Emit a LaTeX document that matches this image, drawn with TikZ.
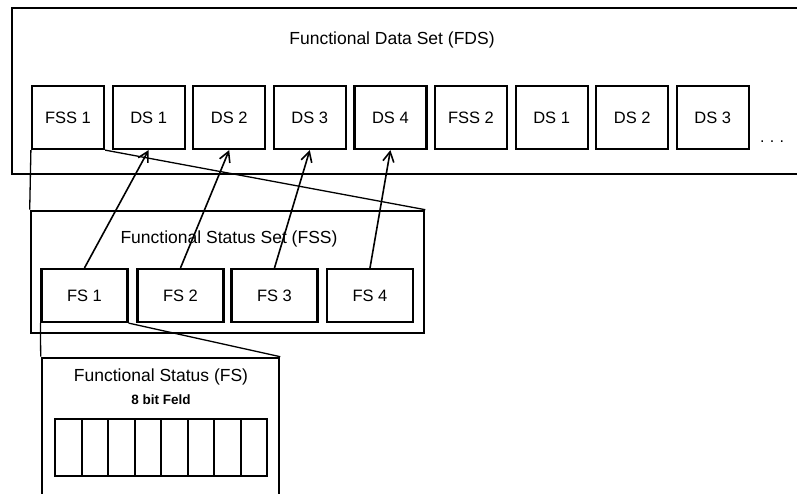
\documentclass[tikz,border=0pt]{standalone}
\usepackage{fontspec}
\setmainfont{Liberation Sans}
\usetikzlibrary{arrows.meta}
\tikzset{
  frame/.style={draw, line width=2.6pt, inner sep=0pt},
  cell/.style={draw, line width=2.2pt, inner sep=0pt, font=\fontsize{16.5}{19}\selectfont},
  bitcell/.style={draw, line width=2pt, inner sep=0pt, minimum width=26.5pt, minimum height=57pt},
  title/.style={font=\fontsize{17.5}{20}\selectfont, inner sep=0pt},
  link/.style={line width=1.6pt, -{Straight Barb[length=10pt,width=11pt,line width=1.6pt]}},
  zoomline/.style={line width=1.3pt},
}
\begin{document}
\begin{tikzpicture}[x=1pt,y=-1pt]
\useasboundingbox (0,0) rectangle (797,493);
\fill[white] (0,0) rectangle (797,493);
\clip (0,0) rectangle (797,493);

% Functional Data Set
\node[frame, minimum width=800pt, minimum height=166pt] (fds) at (412,91) {};
\node[title] (fdst) at (392,40) {Functional Data Set (FDS)};
\foreach \n/\t [count=\i from 0] in {fssA/FSS 1, dsA/DS 1, dsB/DS 2, dsC/DS 3, dsD/DS 4, fssB/FSS 2, dsE/DS 1, dsF/DS 2, dsG/DS 3}
  \node[cell, minimum width=72pt, minimum height=63pt] (\n) at (68+80.6*\i,117.5) {\t};
\node[font=\fontsize{16}{19}\selectfont, inner sep=0pt] (more) at (772,142) {.\,\,.\,\,.};

% Functional Status Set
\node[frame, minimum width=393pt, minimum height=122pt] (fss) at (227.5,272) {};
\node[title] (fsst) at (229,239) {Functional Status Set (FSS)};
\foreach \n/\t/\x in {fsA/FS 1/84.5, fsB/FS 2/180.5, fsC/FS 3/274.5, fsD/FS 4/370}
  \node[cell, minimum width=86pt, minimum height=53pt] (\n) at (\x,295.5) {\t};

% Functional Status
\node[frame, minimum width=237pt, minimum height=162pt] (fs) at (160.5,439) {};
\node[title] (fst) at (161,377) {Functional Status (FS)};
\node[font=\bfseries\fontsize{13.5}{16}\selectfont, inner sep=0pt] (fsf) at (161,400) {8 bit Feld};
\foreach \i in {0,...,7}
  \node[bitcell] (bit\i) at (68.25+26.5*\i,447.5) {};

% detail lines
\draw[zoomline] (fssA.south west) -- (fss.north west);
\draw[zoomline] (fssA.south east) -- (fss.north east);
\draw[zoomline] (fsA.south west) -- (fs.north west);
\draw[zoomline] (fsA.south east) -- (fs.north east);

% status to data set links
\draw[link] (fsA.north) -- (dsA.south);
\draw[link] (fsB.north) -- (dsB.south);
\draw[link] (fsC.north) -- (dsC.south);
\draw[link] (fsD.north) -- (dsD.south);
\end{tikzpicture}
\end{document}
